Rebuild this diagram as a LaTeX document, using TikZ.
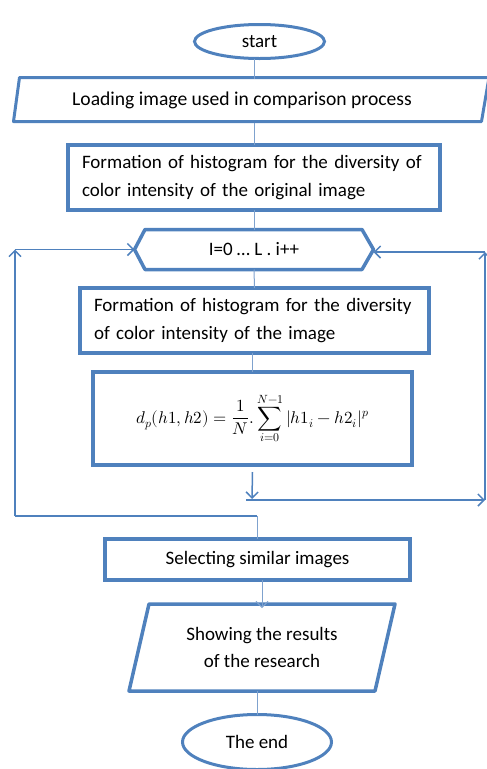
\documentclass[tikz,border=0pt]{standalone}
\usepackage{fontspec}
\usepackage{unicode-math}
\setmainfont{Carlito}
\setmathfont{Latin Modern Math}
\usetikzlibrary{shapes.geometric,arrows.meta}
\definecolor{boxblue}{HTML}{4F81BD}
\definecolor{lineblue}{HTML}{7FA2CE}
\begin{document}
\begin{tikzpicture}[x=1pt,y=-1pt,>={Straight Barb[length=6pt,width=12pt]},
  every node/.style={outer sep=0pt,font=\fontsize{19}{27.5}\selectfont},
  flow/.style={draw=boxblue,line width=4pt,inner sep=0pt},
  oval/.style={ellipse,draw=boxblue,line width=3pt,inner sep=0pt},
  conn/.style={draw=lineblue,line width=1pt},
  loopline/.style={draw=boxblue,line width=1.5pt}]
  \useasboundingbox (0,0) rectangle (487,769);
  % terminals and boxes
  \node[oval,minimum width=130pt,minimum height=34pt] (start) at (259.5,41.5) {start};
  \node[minimum width=300pt,minimum height=44pt,font=\fontsize{19.6}{22}\selectfont] (load) at (242,100.5) {Loading image used in comparison process};
  \node[flow,text width=344pt,inner xsep=14pt,minimum height=65pt,align=left] (orig) at (254,177.5)
    {Formation of histogram for the diversity of\\color intensity of the original image};
  \node[minimum width=239pt,minimum height=40pt] (loop) at (254,249.5) {I=0 … L . i++};
  \node[flow,text width=321pt,inner xsep=14pt,minimum height=65pt,align=left] (hist) at (254.5,320.5)
    {Formation of histogram for the diversity\\of color intensity of the image};
  \node[flow,minimum width=319pt,minimum height=93pt,font=\fontsize{17}{20}\selectfont] (dist) at (252.5,418.5)
    {$\displaystyle d_p(h1,h2)=\frac{1}{N}.\sum_{i=0}^{N-1}|h1_i-h2_i|^p$};
  \node[flow,minimum width=305pt,minimum height=41pt] (select) at (257.5,559.5) {Selecting similar images};
  \node[minimum width=246pt,minimum height=87pt,align=center] (show) at (262,647.5) {Showing the results\\of the research};
  \node[oval,minimum width=149pt,minimum height=55pt] (end) at (257,742) {The end};
  % outlines of the input shapes and the loop
  \draw[boxblue,line width=3pt,line join=round] (19.5,77.5) -- (489,77.5) -- (481.5,121.5) -- (13.5,121.5) -- cycle;
  \draw[boxblue,line width=3.5pt,line join=round] ([xshift=10pt]show.north west) -- ([xshift=10pt]show.north east)
    -- ([xshift=-10pt]show.south east) -- ([xshift=-10pt]show.south west) -- cycle;
  \draw[boxblue,line width=3.5pt,line join=round] (loop.west) -- ([xshift=10.5pt]loop.north west) -- ([xshift=-11.5pt]loop.north east)
    -- (loop.east) -- ([xshift=-11.5pt]loop.south east) -- ([xshift=10.5pt]loop.south west) -- cycle;
  % loop corners
  \coordinate (db) at (252,499);
  \coordinate (dl) at (246,500);
  \coordinate (rb) at (485,500);
  \coordinate (rt) at (485,252);
  \coordinate (lt) at (15,249.5);
  \coordinate (lb) at (15,516);
  \coordinate (mb) at (257,516);
  % connectors
  \draw[conn] (start.south -| orig) -- (load.north -| orig);
  \draw[conn] (load.south -| orig) -- (orig.north);
  \draw[conn] (orig.south) -- (loop.north);
  \draw[conn] (loop.south) -- (hist.north);
  \draw[conn] (hist.south -| dist) -- (dist.north);
  \draw[loopline,->] ([yshift=-7pt]dist.south) -- (db);
  \draw[loopline,->] (dl) -- (rb);
  \draw[loopline,->] (rb) -- (rt);
  \draw[loopline,->] (rt) -- (rt -| loop.east);
  \draw[conn] (select.north -| mb) -- (mb);
  \draw[loopline] (mb) -- (lb);
  \draw[loopline,->] (lb) -- (lt);
  \draw[loopline,->] (lt) -- (loop.west);
  \draw[conn,->] (select.south -| show) -- ([yshift=-4pt]show.north);
  \draw[conn] (show.south -| end) -- (end.north);
\end{tikzpicture}
\end{document}
